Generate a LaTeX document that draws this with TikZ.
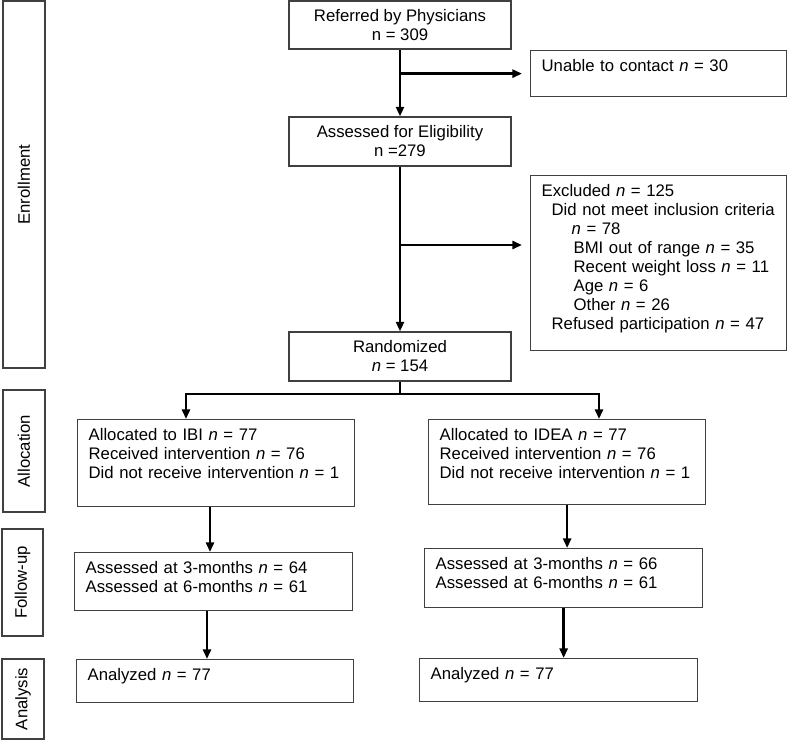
\documentclass[tikz,border=0pt]{standalone}
\usepackage{fontspec}
\setmainfont{Liberation Sans}
\usepackage{tikz}
\usetikzlibrary{arrows.meta}

\tikzset{
  stage/.style={draw=black!75, line width=0.9pt, rectangle, anchor=north west, align=left,
    inner xsep=0.275cm, inner ysep=0pt, text height=0.525cm},
  midbox/.style={draw=black!75, line width=0.9pt, rectangle, align=center, inner sep=0pt,
    minimum width=5.55cm},
  phase/.style={draw=black!75, line width=0.9pt, rectangle, rotate=90, inner sep=0pt},
  flow/.style={-{Triangle[length=0.24cm, width=0.2cm]}, line width=1.8pt}
}

\begin{document}
\begin{tikzpicture}[font=\fontsize{11.9}{13.5}\selectfont]
\useasboundingbox (0,0) rectangle (19.675,-18.5);
				% phases on the left
				\node[phase, minimum width=9.175cm, minimum height=1.05cm] (enroll)at(0.6, -4.6125) {Enrollment};
				\node[phase, minimum width=3.05cm, minimum height=1.05cm] (alloc)at(0.6, -11.275) {Allocation};
				\node[phase, minimum width=2.675cm, minimum height=1.025cm] (follow)at(0.5625, -14.5625) {Follow-up};
				\node[phase, minimum width=2.0cm, minimum height=1.05cm] (anal)at(0.575, -17.475) {Analysis};
				% enrollment
				\node[midbox, minimum height=1.2cm] (referred)at(10, -0.625) {Referred by Physicians\\n = 309};
				\node[midbox, minimum height=1.225cm] (assessed)at(10, -3.5375) {Assessed for Eligibility\\n =279};
				\node[midbox, minimum height=1.225cm] (random)at(10, -8.9125) {Randomized\\\textit{n} = 154};
				\node[stage, text width=5.85cm, text depth=0.625cm] (unable)at(13.25, -1.25) {Unable to contact \textit{n} = 30};
				\node[stage, text width=5.85cm, text depth=3.85cm] (excluded)at(13.25, -4.375) {Excluded \textit{n} = 125\\
					\hspace*{0.25cm}Did not meet inclusion criteria\\
					\hspace*{0.75cm}\textit{n} = 78\\
					\hspace*{0.8cm}BMI out of range \textit{n} = 35\\
					\hspace*{0.8cm}Recent weight loss \textit{n} = 11\\
					\hspace*{0.8cm}Age \textit{n} = 6\\
					\hspace*{0.8cm}Other \textit{n} = 26\\
					\hspace*{0.25cm}Refused participation \textit{n} = 47};
				% IBI arm
				\node[stage, text width=6.375cm, text depth=1.65cm] (ibialloc)at(1.925, -10.475) {Allocated to IBI \textit{n} = 77\\Received intervention \textit{n} = 76\\Did not receive intervention \textit{n} = 1};
				\node[stage, text width=6.4cm, text depth=0.925cm] (ibifollow)at(1.85, -13.8) {Assessed at 3-months \textit{n} = 64\\Assessed at 6-months \textit{n} = 61};
				\node[stage, text width=6.375cm, text depth=0.55cm] (ibianal)at(1.9, -16.475) {Analyzed \textit{n} = 77};
				% IDEA arm
				\node[stage, text width=6.375cm, text depth=1.6cm] (idealloc)at(10.7, -10.475) {Allocated to IDEA \textit{n} = 77\\Received intervention \textit{n} = 76\\Did not receive intervention \textit{n} = 1};
				\node[stage, text width=6.4cm, text depth=0.95cm] (ideafollow)at(10.6, -13.7) {Assessed at 3-months \textit{n} = 66\\Assessed at 6-months \textit{n} = 61};
				\node[stage, text width=6.4cm, text depth=0.55cm] (ideaanal)at(10.475, -16.45) {Analyzed \textit{n} = 77};
				\coordinate (toexc)at(13.05, -6.125);
				\coordinate (split)at(10, -9.85);
				\draw[flow] (referred) -- (assessed);
				\draw[flow] (assessed) -- (random);
				\draw[flow, shorten >=0.2cm] (referred.south |- unable.west) -- (unable.west);
				\draw[flow] (assessed.south |- toexc) -- (toexc);
				\draw[line width=1.8pt] (random.south) -- (split);
				\draw[flow] (split) -| ([xshift=2.725cm]ibialloc.north west);
				\draw[flow] (split) -| ([xshift=4.275cm]idealloc.north west);
				\draw[flow] ([xshift=3.325cm]ibialloc.south west) -- ([xshift=3.325cm]ibialloc.south west |- ibifollow.north);
				\draw[flow] ([xshift=3.325cm]ibifollow.south west) -- ([xshift=3.325cm]ibifollow.south west |- ibianal.north);
				\draw[flow] (idealloc.south) -- (idealloc.south |- ideafollow.north);
				\draw[flow] (ideafollow.south) -- (ideafollow.south |- ideaanal.north);
			\end{tikzpicture}
\end{document}
